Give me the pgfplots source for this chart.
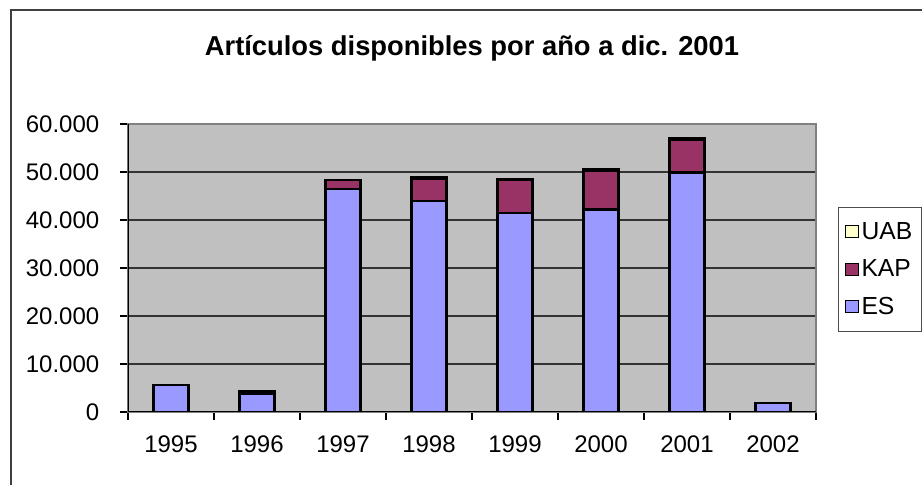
\documentclass[border=0pt]{standalone}
\usepackage{pgfplots}
\pgfplotsset{compat=1.18}
\usepackage{pgfplotstable}
\usepackage{fontspec}
\setmainfont{Liberation Sans}
\definecolor{esc}{HTML}{9999FF}
\definecolor{kapc}{HTML}{993366}
\definecolor{uabc}{HTML}{FFFFCC}
\definecolor{bgc}{HTML}{C0C0C0}
\pgfplotstableread{
x ES KAP UAB
0 5600 0 0
1 3800 350 150
2 46400 1900 50
3 44000 4600 400
4 41500 6800 300
5 42200 8100 300
6 49900 6800 300
7 1900 0 0
}\datatable
\begin{document}
\begin{tikzpicture}
\useasboundingbox (0,0) rectangle (691.5pt,363.75pt);
\fill[white] (0,0) rectangle (691.5pt,363.75pt);
\draw[line width=1.1pt, color=black!75] (8.25pt,-5pt) -- (8.25pt,356.25pt) -- (700pt,356.25pt);
\node[anchor=base, font=\fontsize{20.5}{24}\selectfont\bfseries] at (354pt,322pt) {Artículos disponibles por año a dic. 2001};
\begin{axis}[
  at={(96pt,54.75pt)}, anchor=south west,
  scale only axis, width=516pt, height=216pt,
  ybar stacked, bar width=26.25pt,
  xmin=-0.5, xmax=7.5, ymin=0, ymax=60000,
  xtick={0,...,7},
  xticklabels={1995,1996,1997,1998,1999,2000,2001,2002},
  minor xtick={-0.5,0.5,...,7.5},
  ytick={0,10000,...,60000},
  xtick pos=bottom, ytick pos=left,
  scaled y ticks=false,
  /pgf/number format/fixed,
  /pgf/number format/1000 sep={.},
  /pgf/number format/assume math mode=true,
  tick align=outside,
  major tick length=6pt, minor tick length=6pt,
  major x tick style={draw=none},
  minor x tick style={black, line width=0.8pt},
  major y tick style={black, line width=0.8pt},
  xticklabel style={font=\fontsize{18}{21}\selectfont, yshift=-8pt},
  yticklabel style={font=\fontsize{18}{21}\selectfont, xshift=-12pt},
  ymajorgrids,
  grid style={black!80, line width=0.8pt},
  axis background/.style={fill=bgc},
  axis line style={black!50, line width=0.8pt},
  legend style={at={(1.032,0.712)}, anchor=north west, draw=black!70, fill=white,
    font=\fontsize{18.5}{21}\selectfont, row sep=10pt, inner xsep=5pt, inner ysep=9pt, line width=0.7pt},
  legend cell align=left,
  reverse legend,
  legend image code/.code={\draw[#1,draw=black,line width=0.8pt] (0pt,-4.5pt) rectangle (9.5pt,4.5pt);},
]
\addplot[fill=esc, draw=black, line width=1.6pt] table[x=x,y=ES] {\datatable};
\addplot[fill=kapc, draw=black, line width=1.6pt] table[x=x,y=KAP] {\datatable};
\addplot[fill=uabc, draw=black, line width=1.6pt] table[x=x,y=UAB] {\datatable};
\legend{ES,KAP,UAB}
\draw[black, line width=0.8pt] (rel axis cs:0,0) -- (rel axis cs:1,0);
\draw[black, line width=0.8pt] (rel axis cs:0,0) -- (rel axis cs:0,1);
\end{axis}
\end{tikzpicture}
\end{document}
